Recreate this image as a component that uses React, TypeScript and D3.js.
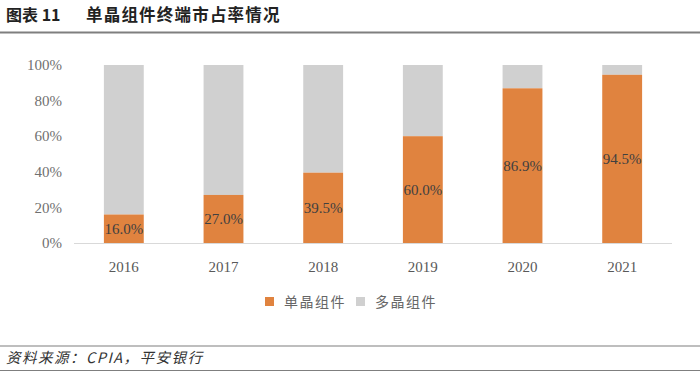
import React from 'react';
import * as d3 from 'd3';

const years = ['2016', '2017', '2018', '2019', '2020', '2021'];
const mono = [16.0, 27.0, 39.5, 60.0, 86.9, 94.5];
const yTicks = [0, 20, 40, 60, 80, 100];
const seriesNames = ['单晶组件', '多晶组件'];
const colors = ['#E0833F', '#D0D0D0'];

const W = 700;
const H = 373;
const serif = '"Liberation Serif", "DejaVu Serif", serif';
const cjk = '"Noto Sans CJK SC", sans-serif';

export default function App() {
  const x = d3.scaleBand().domain(years).range([74, 672]).paddingInner(0.6).paddingOuter(0.3);
  const y = d3.scaleLinear().domain([0, 100]).range([243, 65]);
  const bw = x.bandwidth();

  return (
    <svg width={W} height={H} style={{ position: 'absolute', left: 0, top: 0 }}>
      <rect width={W} height={H} fill="#fff" />
      <text x={6} y={21} fontFamily={cjk} fontWeight="bold" fontSize={16} fill="#222">图表 11</text>
      <text x={86} y={21} fontFamily={cjk} fontWeight="bold" fontSize={16.5} fill="#222" letterSpacing={1.2}>单晶组件终端市占率情况</text>
      <line x1={0} x2={W} y1={32.5} y2={32.5} stroke="#7f7f7f" strokeWidth={2} />

      {yTicks.map(t => (
        <text key={t} x={62} y={y(t)} dy="0.35em" textAnchor="end" fontFamily={serif} fontSize={15} fill="#707070">{t}%</text>
      ))}

      {years.map((yr, i) => (
        <g key={yr}>
          <rect x={x(yr)} width={bw} y={y(100)} height={y(mono[i]) - y(100)} fill={colors[1]} />
          <rect x={x(yr)} width={bw} y={y(mono[i])} height={y(0) - y(mono[i])} fill={colors[0]} />
          <text x={x(yr)! + bw / 2} y={y(mono[i] / 2)} dy="0.35em" textAnchor="middle" fontFamily={serif} fontSize={15} fill="#404040">{mono[i].toFixed(1)}%</text>
          <text x={x(yr)! + bw / 2} y={267} dy="0.35em" textAnchor="middle" fontFamily={serif} fontSize={15} fill="#595959">{yr}</text>
        </g>
      ))}
      <line x1={74} x2={672} y1={243.5} y2={243.5} stroke="#d9d9d9" strokeWidth={1} />

      <rect x={265} y={297} width={9} height={9} fill={colors[0]} />
      <text x={284} y={302} dy="0.35em" fontFamily={cjk} fontSize={14} fill="#666" letterSpacing={1.5}>{seriesNames[0]}</text>
      <rect x={356} y={297} width={9} height={9} fill={colors[1]} />
      <text x={375} y={302} dy="0.35em" fontFamily={cjk} fontSize={14} fill="#666" letterSpacing={1.5}>{seriesNames[1]}</text>

      <line x1={0} x2={W} y1={346} y2={346} stroke="#7f7f7f" strokeWidth={1.2} />
      <text x={6} y={358} dy="0.35em" fontFamily={cjk} fontSize={14.5} fontStyle="italic" fill="#333" letterSpacing={1.5}>资料来源：CPIA，平安银行</text>
      <line x1={0} x2={W} y1={370.5} y2={370.5} stroke="#7f7f7f" strokeWidth={1.2} />
    </svg>
  );
}
